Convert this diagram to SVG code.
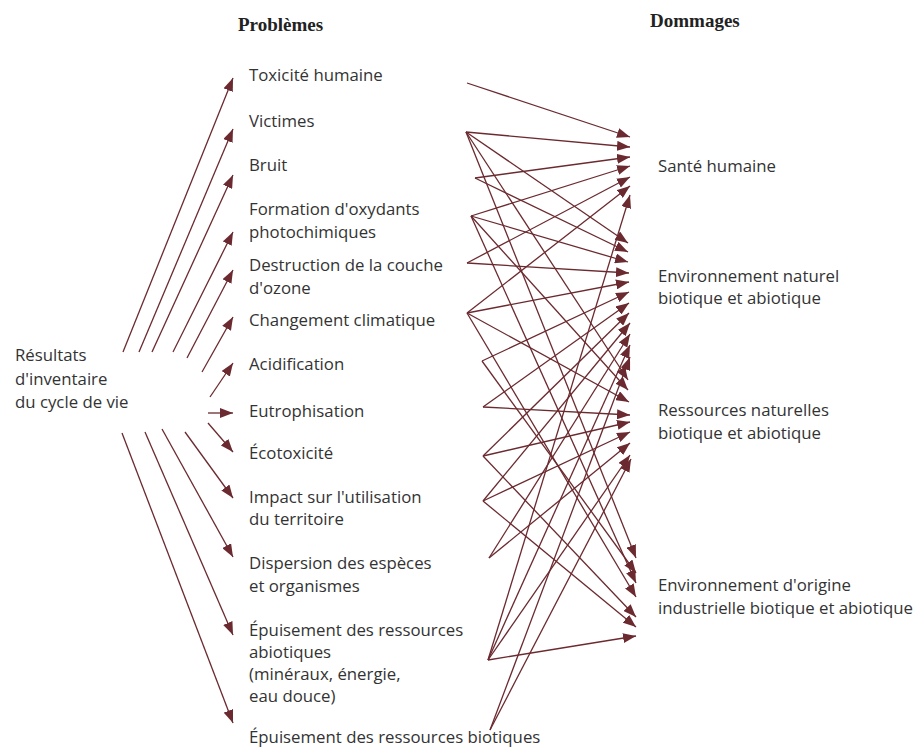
<svg xmlns="http://www.w3.org/2000/svg" width="922" height="749" viewBox="0 0 922 749">
<defs>
<marker id="ah" markerUnits="userSpaceOnUse" markerWidth="14" markerHeight="10" refX="13" refY="5" orient="auto">
<path d="M0,0 L13,5 L0,10 z" fill="#6b2a2f"/>
</marker>
<style>
.t{font-family:"Open Sans","Liberation Sans",sans-serif;font-size:16.8px;fill:#333}
.h{font-family:"Liberation Serif",serif;font-size:19px;font-weight:bold;fill:#222}
line{stroke:#6b2a2f;stroke-width:1.3;marker-end:url(#ah)}
</style>
</defs>
<rect width="922" height="749" fill="#fff"/>
<text class="h" x="238" y="31">Problèmes</text>
<text class="h" x="650" y="27">Dommages</text>
<g id="source"><text class="t" x="15" y="361">Résultats</text><text class="t" x="15" y="385">d'inventaire</text><text class="t" x="15" y="408">du cycle de vie</text></g>
<g id="p-tox"><text class="t" x="249" y="81">Toxicité humaine</text></g>
<g id="p-vic"><text class="t" x="249" y="127">Victimes</text></g>
<g id="p-bru"><text class="t" x="249" y="171">Bruit</text></g>
<g id="p-for"><text class="t" x="249" y="215">Formation d'oxydants</text><text class="t" x="249" y="238">photochimiques</text></g>
<g id="p-des"><text class="t" x="249" y="271">Destruction de la couche</text><text class="t" x="249" y="294">d'ozone</text></g>
<g id="p-cha"><text class="t" x="249" y="326">Changement climatique</text></g>
<g id="p-aci"><text class="t" x="249" y="370">Acidification</text></g>
<g id="p-eut"><text class="t" x="249" y="417">Eutrophisation</text></g>
<g id="p-eco"><text class="t" x="249" y="459">Écotoxicité</text></g>
<g id="p-imp"><text class="t" x="249" y="503">Impact sur l'utilisation</text><text class="t" x="249" y="525">du territoire</text></g>
<g id="p-dis"><text class="t" x="249" y="569">Dispersion des espèces</text><text class="t" x="249" y="592">et organismes</text></g>
<g id="p-abi"><text class="t" x="249" y="636">Épuisement des ressources</text><text class="t" x="249" y="658">abiotiques</text><text class="t" x="249" y="680">(minéraux, énergie,</text><text class="t" x="249" y="702">eau douce)</text></g>
<g id="p-bio"><text class="t" x="249" y="743">Épuisement des ressources biotiques</text></g>
<g id="d-sante"><text class="t" x="658" y="172">Santé humaine</text></g>
<g id="d-envnat"><text class="t" x="658" y="282">Environnement naturel</text><text class="t" x="658" y="304">biotique et abiotique</text></g>
<g id="d-res"><text class="t" x="658" y="416">Ressources naturelles</text><text class="t" x="658" y="439">biotique et abiotique</text></g>
<g id="d-ind"><text class="t" x="658" y="591">Environnement d'origine</text><text class="t" x="658" y="614">industrielle biotique et abiotique</text></g>
<g id="connectors">
<line x1="123" y1="352" x2="233" y2="78"/>
<line x1="139" y1="352" x2="233" y2="129"/>
<line x1="152" y1="352" x2="233" y2="175"/>
<line x1="173" y1="352" x2="233" y2="232"/>
<line x1="187" y1="358" x2="233" y2="270"/>
<line x1="202" y1="372" x2="233" y2="317"/>
<line x1="210" y1="397" x2="233" y2="363"/>
<line x1="208" y1="413" x2="233" y2="413"/>
<line x1="208" y1="423" x2="233" y2="452"/>
<line x1="185" y1="432" x2="233" y2="498"/>
<line x1="162" y1="429" x2="233" y2="557"/>
<line x1="145" y1="432" x2="233" y2="635"/>
<line x1="122" y1="433" x2="233" y2="723"/>
<line x1="467" y1="83" x2="630" y2="137"/>
<line x1="466" y1="132" x2="630" y2="147"/>
<line x1="475" y1="178" x2="630" y2="157"/>
<line x1="471" y1="216" x2="630" y2="166"/>
<line x1="467" y1="263" x2="630" y2="177"/>
<line x1="467" y1="313" x2="630" y2="186"/>
<line x1="488" y1="660" x2="630" y2="195"/>
<line x1="466" y1="132" x2="628" y2="243"/>
<line x1="475" y1="178" x2="628" y2="252"/>
<line x1="471" y1="216" x2="628" y2="262"/>
<line x1="467" y1="263" x2="629" y2="273"/>
<line x1="467" y1="313" x2="629" y2="282"/>
<line x1="482" y1="361" x2="629" y2="292"/>
<line x1="483" y1="407" x2="629" y2="303"/>
<line x1="483" y1="456" x2="629" y2="313"/>
<line x1="483" y1="501" x2="630" y2="323"/>
<line x1="489" y1="558" x2="630" y2="334"/>
<line x1="488" y1="660" x2="630" y2="345"/>
<line x1="490" y1="730" x2="630" y2="357"/>
<line x1="466" y1="132" x2="628" y2="380"/>
<line x1="471" y1="216" x2="628" y2="390"/>
<line x1="467" y1="313" x2="629" y2="402"/>
<line x1="483" y1="407" x2="630" y2="415"/>
<line x1="483" y1="456" x2="630" y2="422"/>
<line x1="483" y1="501" x2="630" y2="432"/>
<line x1="489" y1="558" x2="630" y2="443"/>
<line x1="488" y1="660" x2="630" y2="455"/>
<line x1="490" y1="730" x2="631" y2="459"/>
<line x1="466" y1="132" x2="636" y2="558"/>
<line x1="482" y1="361" x2="636" y2="573"/>
<line x1="471" y1="216" x2="636" y2="583"/>
<line x1="467" y1="313" x2="636" y2="597"/>
<line x1="483" y1="456" x2="636" y2="617"/>
<line x1="483" y1="501" x2="636" y2="627"/>
<line x1="488" y1="660" x2="636" y2="636"/>
</g>
</svg>
